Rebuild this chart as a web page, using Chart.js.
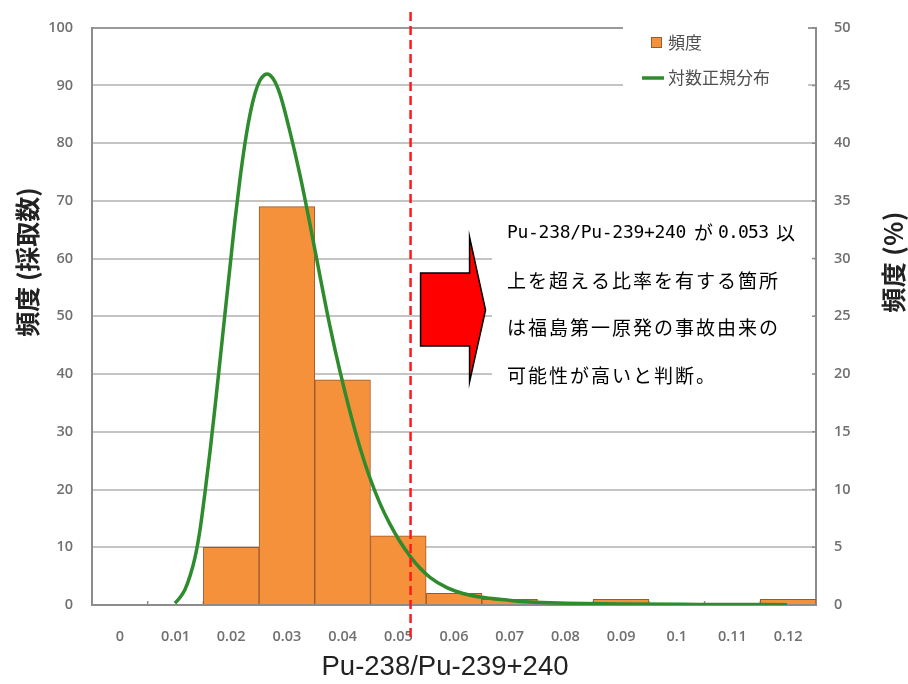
<!DOCTYPE html>
<html>
<head>
<meta charset="utf-8">
<script src="https://cdn.jsdelivr.net/npm/chart.js@4.4.1/dist/chart.umd.min.js"></script>
<style>
  html, body { margin: 0; padding: 0; background: #ffffff; }
  #wrap { width: 908px; height: 684px; position: relative; }
</style>
</head>
<body>
<div id="wrap"><canvas id="c" width="908" height="684"></canvas></div>
<script>
// ---- data ----
const categories = ['0', '0.01', '0.02', '0.03', '0.04', '0.05', '0.06', '0.07', '0.08', '0.09', '0.1', '0.11', '0.12'];
const counts = [0, 0, 10, 69, 39, 12, 2, 1, 0, 1, 0, 0, 1];
// log-normal fit curve (x = ratio, y = percent on right axis)
const curveX = [0.00990, 0.01080, 0.01170, 0.01259, 0.01349, 0.01439, 0.01529, 0.01618, 0.01708, 0.01798,
                0.01888, 0.01978, 0.02067, 0.02157, 0.02247, 0.02337, 0.02426, 0.02516, 0.02606, 0.02642,
                0.02750, 0.02875, 0.03054, 0.03234, 0.03413, 0.03593, 0.03772, 0.03952, 0.04132, 0.04311,
                0.04491, 0.04670, 0.04850, 0.05029, 0.05209, 0.05388, 0.05568, 0.05873, 0.06160, 0.06466,
                0.06950, 0.07363, 0.08027, 0.08979, 0.10415, 0.11977];
const curvePct = [0.15, 0.65, 1.35, 2.5, 4.1, 6.5, 9.75, 13.25, 17.1, 21.15,
                  25.25, 29.3, 33.3, 36.9, 40.0, 42.5, 44.3, 45.45, 45.95, 46.0,
                  45.6, 44.25, 41.0, 37.25, 33.0, 28.5, 24.15, 20.25, 16.75, 13.65,
                  11.0, 8.8, 7.0, 5.5, 4.25, 3.2, 2.4, 1.5, 1.0, 0.7,
                  0.43, 0.25, 0.15, 0.08, 0.05, 0.03];
const thresholdValue = 0.0522; // position of the red dashed line as drawn
const seriesLabels = ['頻度', '対数正規分布'];
const leftTitle = '頻度 (採取数)';
const rightTitle = '頻度 (%)';
const xTitle = 'Pu-238/Pu-239+240';
const noteLine1 = ['Pu-238/Pu-239+240', 'が', '0.053', '以'];
const noteLines = ['上を超える比率を有する箇所', 'は福島第一原発の事故由来の', '可能性が高いと判断。'];

const tickColor = '#707070';
const tickFont = { family: "'Open Sans', sans-serif", size: 14.5, weight: '600' };
const axisColor = '#8c8c8c';
const cjk = "'Noto Sans CJK JP', sans-serif";

const overlay = {
  id: 'overlay',
  beforeDatasetsDraw(chart) {
    const ctx = chart.ctx;
    ctx.save();
    ctx.fillStyle = '#ffffff';
    ctx.fillRect(623, 22, 185, 78);   // legend background
    ctx.fillRect(492, 203, 322, 202); // note background
    // small inward tick marks on right and bottom axes
    const area = chart.chartArea;
    ctx.strokeStyle = axisColor;
    ctx.lineWidth = 1.5;
    ctx.beginPath();
    chart.scales.yPct.ticks.forEach((t, i) => {
      const py = chart.scales.yPct.getPixelForTick(i);
      ctx.moveTo(area.right, py);
      ctx.lineTo(area.right - 4, py);
    });
    const xs = chart.scales.x;
    for (let i = 1; i < categories.length; i++) {
      const px = (xs.getPixelForTick(i - 1) + xs.getPixelForTick(i)) / 2;
      ctx.moveTo(px, area.bottom);
      ctx.lineTo(px, area.bottom - 4);
    }
    ctx.stroke();
    ctx.restore();
  },
  afterDatasetsDraw(chart) {
    const ctx = chart.ctx;
    const xLin = chart.scales.xLin;
    const ds0 = chart.data.datasets[0];
    const ds1 = chart.data.datasets[1];
    ctx.save();

    // threshold dashed line
    const tx = xLin.getPixelForValue(thresholdValue);
    ctx.strokeStyle = '#ff1a1a';
    ctx.lineWidth = 2.5;
    ctx.setLineDash([9, 5]);
    ctx.beginPath();
    ctx.moveTo(tx, 12);
    ctx.lineTo(tx, 640);
    ctx.stroke();
    ctx.setLineDash([]);

    // block arrow
    const ax = tx + 10;
    ctx.beginPath();
    ctx.moveTo(ax, 273);
    ctx.lineTo(ax + 49, 273);
    ctx.lineTo(ax + 49, 237);
    ctx.lineTo(ax + 65, 310);
    ctx.lineTo(ax + 49, 382);
    ctx.lineTo(ax + 49, 346);
    ctx.lineTo(ax, 346);
    ctx.closePath();
    ctx.fillStyle = '#ff0000';
    ctx.fill();
    ctx.strokeStyle = '#000000';
    ctx.lineWidth = 1.5;
    ctx.stroke();

    // note text
    ctx.fillStyle = '#000000';
    ctx.textBaseline = 'middle';
    ctx.textAlign = 'left';
    ctx.font = "18px 'DejaVu Sans Mono', monospace";
    ctx.letterSpacing = '-0.3px';
    ctx.fillText(noteLine1[0], 507, 233);
    ctx.font = "19px " + cjk;
    ctx.letterSpacing = '0px';
    ctx.fillText(noteLine1[1], 694, 233);
    ctx.font = "18px 'DejaVu Sans Mono', monospace";
    ctx.letterSpacing = '-0.8px';
    ctx.fillText(noteLine1[2], 718, 233);
    ctx.font = "19px " + cjk;
    ctx.letterSpacing = '0px';
    ctx.fillText(noteLine1[3], 776, 233);
    ctx.letterSpacing = '2px';
    const ys = [281, 328, 376];
    noteLines.forEach((t, i) => ctx.fillText(t, 507, ys[i]));
    ctx.letterSpacing = '0px';

    // legend
    ctx.fillStyle = ds0.backgroundColor;
    ctx.fillRect(651, 37, 11, 11);
    ctx.strokeStyle = ds0.borderColor;
    ctx.lineWidth = 1;
    ctx.strokeRect(651.5, 37.5, 10, 10);
    ctx.strokeStyle = ds1.borderColor;
    ctx.lineWidth = 3.5;
    ctx.beginPath();
    ctx.moveTo(642, 78);
    ctx.lineTo(664, 78);
    ctx.stroke();
    ctx.fillStyle = '#505050';
    ctx.font = "17px " + cjk;
    ctx.fillText(ds0.label, 668, 43);
    ctx.fillText(ds1.label, 668, 78);

    // x axis title
    ctx.fillStyle = '#222222';
    ctx.textAlign = 'center';
    ctx.font = "27.5px 'Liberation Sans', Arial, sans-serif";
    ctx.fillText(xTitle, 445, 667);

    // y axis titles (both read bottom-to-top)
    ctx.font = "bold 25px " + cjk;
    ctx.save();
    ctx.translate(27, 262);
    ctx.rotate(-Math.PI / 2);
    ctx.fillText(leftTitle, 0, 0);
    ctx.restore();
    ctx.save();
    ctx.translate(893, 262);
    ctx.rotate(-Math.PI / 2);
    ctx.letterSpacing = '0.5px';
    ctx.fillText(rightTitle, 0, 0);
    ctx.restore();

    ctx.restore();
  }
};

new Chart(document.getElementById('c'), {
  type: 'bar',
  data: {
    labels: categories,
    datasets: [
      {
        type: 'bar',
        label: seriesLabels[0],
        data: counts,
        xAxisID: 'x',
        yAxisID: 'y',
        backgroundColor: '#f5903b',
        borderColor: '#9c5a2a',
        borderWidth: 1,
        barPercentage: 1,
        categoryPercentage: 1,
        grouped: false,
        order: 2
      },
      {
        type: 'line',
        label: seriesLabels[1],
        data: curveX.map((x, i) => ({ x: x, y: curvePct[i] })),
        xAxisID: 'xLin',
        yAxisID: 'yPct',
        borderColor: '#2e8b2e',
        borderWidth: 3.5,
        pointRadius: 0,
        cubicInterpolationMode: 'monotone',
        fill: false,
        order: 1
      }
    ]
  },
  options: {
    responsive: false,
    animation: false,
    devicePixelRatio: 1,
    layout: { padding: { top: 16, left: 0, right: 0, bottom: 0 } },
    plugins: { legend: { display: false }, tooltip: { enabled: false } },
    scales: {
      x: {
        type: 'category',
        position: 'bottom',
        offset: true,
        grid: { display: false },
        border: { display: true, color: axisColor, width: 2 },
        ticks: { color: tickColor, font: tickFont, padding: 15, maxRotation: 0, autoSkip: false },
        title: { display: false, text: xTitle },
        afterFit(s) { s.height = 79; }
      },
      xLin: {
        type: 'linear',
        display: false,
        offset: false,
        grid: { offset: false },
        min: -0.005,
        max: 0.125
      },
      y: {
        type: 'linear',
        position: 'left',
        min: 0,
        max: 100,
        ticks: { stepSize: 10, color: tickColor, font: tickFont, padding: 19 },
        grid: { color: (c) => (c.tick && c.tick.value === 100 ? '#9a9a9a' : '#c4c4c4'), lineWidth: 2, drawTicks: false },
        border: { color: axisColor, width: 2 },
        title: { display: false, text: leftTitle },
        afterFit(s) { s.width = 92; }
      },
      yPct: {
        type: 'linear',
        position: 'right',
        min: 0,
        max: 50,
        ticks: { stepSize: 5, color: tickColor, font: tickFont, padding: 18 },
        grid: { drawOnChartArea: false, drawTicks: false },
        border: { color: axisColor, width: 2 },
        title: { display: false, text: rightTitle },
        afterFit(s) { s.width = 92; }
      }
    }
  },
  plugins: [overlay]
});
</script>
</body>
</html>
